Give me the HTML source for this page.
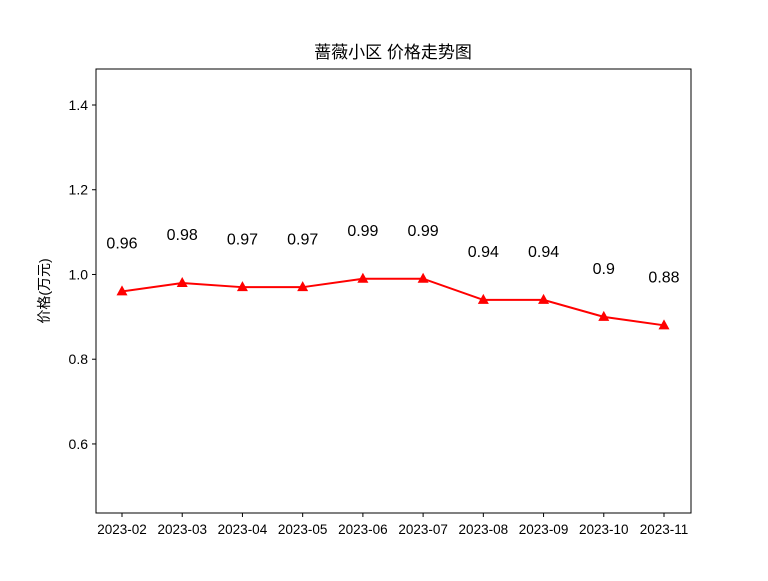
<!DOCTYPE html>
<html><head><meta charset="utf-8"><style>
body{margin:0;background:#fff}
text{font-family:"Liberation Sans","Noto Sans CJK SC",sans-serif}
</style></head><body>
<svg id="chart" width="768" height="576" xmlns="http://www.w3.org/2000/svg">
<rect width="768" height="576" fill="#fff"/>
<text x="393" y="58" font-size="17" text-anchor="middle">蔷薇小区 价格走势图</text>
<text transform="translate(49,291) rotate(-90)" font-size="14" text-anchor="middle">价格(万元)</text>
<g id="ticks"></g>
<g id="marks"></g>
<rect x="96" y="69" width="595" height="444" fill="none" stroke="#000" stroke-width="1"/>
</svg>
<script>
const categories=["2023-02","2023-03","2023-04","2023-05","2023-06","2023-07","2023-08","2023-09","2023-10","2023-11"];
const prices=[0.96,0.98,0.97,0.97,0.99,0.99,0.94,0.94,0.9,0.88];
const priceLabels=["0.96","0.98","0.97","0.97","0.99","0.99","0.94","0.94","0.9","0.88"];
const yTicks=[0.6,0.8,1.0,1.2,1.4];
const yTickLabels=["0.6","0.8","1.0","1.2","1.4"];
const NS="http://www.w3.org/2000/svg";
const x0=122,x1=664,yTop=69,yBot=513,vTop=1.485,vBot=0.437;
function xs(i){return x0+(x1-x0)*i/(categories.length-1);}
function ys(v){return yBot-(v-vBot)/(vTop-vBot)*(yBot-yTop);}
function mk(tag,attrs,parent){const e=document.createElementNS(NS,tag);for(const k in attrs)e.setAttribute(k,attrs[k]);parent.appendChild(e);return e;}
const tk=document.getElementById('ticks'),mg=document.getElementById('marks');
yTicks.forEach((v,i)=>{
  const l=mk('line',{x1:92,x2:96,y1:ys(v),y2:ys(v),stroke:'#000'},tk);
  
  
  const t=mk('text',{x:88,y:ys(v)+5,'font-size':14,'text-anchor':'end'},tk);
  
  
  t.textContent=yTickLabels[i];
});
categories.forEach((c,i)=>{
  const l=mk('line',{x1:xs(i),x2:xs(i),y1:513,y2:517,stroke:'#000'},tk);
  
  
  const t=mk('text',{x:xs(i),y:534,'font-size':13.5,'text-anchor':'middle'},tk);
  
  
  t.textContent=c;
});
const line=mk('polyline',{points:prices.map((v,i)=>xs(i)+','+ys(v)).join(' '),fill:'none',stroke:'#f00','stroke-width':2},mg);


prices.forEach((v,i)=>{
  const x=xs(i),y=ys(v);
  const p=mk('polygon',{points:`${x},${y-6} ${x-5.5},${y+4} ${x+5.5},${y+4}`,fill:'#f00'},mg);
  
  
  const t=mk('text',{x:x,y:ys(v+0.115)+6,'font-size':16,'text-anchor':'middle'},mg);
  
  
  t.textContent=priceLabels[i];
});
</script>
</body></html>
